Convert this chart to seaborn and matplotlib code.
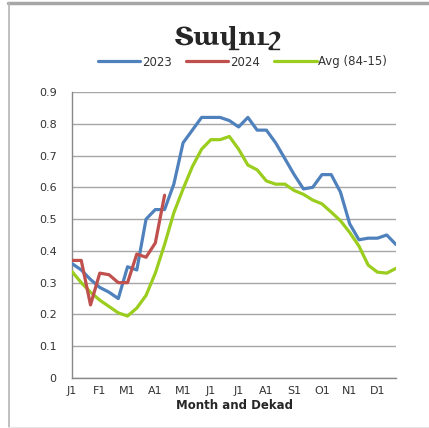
import numpy as np
import pandas as pd
import matplotlib
matplotlib.use("Agg")
import matplotlib.pyplot as plt
from matplotlib.lines import Line2D
import seaborn as sns

# dekad index 0..35 (J1 .. D3)
dekads = list(range(36))
tick_pos = list(range(0, 36, 3))
tick_labels = ["J1", "F1", "M1", "A1", "M1", "J1", "J1", "A1", "S1", "O1", "N1", "D1"]

ndvi_2023 = [0.36, 0.34, 0.31, 0.285, 0.27, 0.25, 0.35, 0.34, 0.50, 0.53, 0.53, 0.61,
             0.74, 0.78, 0.82, 0.82, 0.82, 0.81, 0.79, 0.82, 0.78, 0.78, 0.74, 0.69,
             0.64, 0.595, 0.60, 0.64, 0.64, 0.585, 0.485, 0.435, 0.44, 0.44, 0.45, 0.42]
ndvi_2024 = [0.37, 0.37, 0.23, 0.33, 0.325, 0.30, 0.30, 0.39, 0.38, 0.425, 0.575]
ndvi_avg = [0.335, 0.30, 0.27, 0.245, 0.225, 0.205, 0.195, 0.22, 0.26, 0.33, 0.42, 0.52,
            0.595, 0.665, 0.72, 0.75, 0.75, 0.76, 0.72, 0.67, 0.655, 0.62, 0.61, 0.61,
            0.59, 0.578, 0.56, 0.548, 0.522, 0.495, 0.458, 0.415, 0.355, 0.333, 0.33, 0.345]

sns.set_style("white")
plt.rcParams["font.family"] = ["DejaVu Sans"]

fig = plt.figure(figsize=(4.29, 4.28), dpi=100)
ax = fig.add_axes([72 / 429, 1 - 378 / 428, 324 / 429, 286 / 428])

lw = 2.3
sns.lineplot(x=dekads, y=ndvi_avg, ax=ax, color="#9ACD1E", linewidth=lw,
             solid_joinstyle="round", zorder=3)
sns.lineplot(x=dekads, y=ndvi_2023, ax=ax, color="#4F81BD", linewidth=lw,
             solid_joinstyle="round", zorder=4)
sns.lineplot(x=dekads[:len(ndvi_2024)], y=ndvi_2024, ax=ax, color="#C0504D",
             linewidth=lw, solid_joinstyle="round", zorder=5)

ax.set_xlim(0, 35)
ax.set_ylim(0, 0.9)
ax.set_yticks(np.arange(0, 0.91, 0.1))
ax.set_yticklabels(["0"] + [f"{v:.1f}" for v in np.arange(0.1, 0.91, 0.1)],
                   fontsize=8, color="#333333")
ax.set_xticks(tick_pos)
ax.set_xticklabels(tick_labels, fontsize=8, color="#333333")
ax.set_xticks(dekads, minor=True)
ax.tick_params(axis="both", which="both", direction="out", length=3,
               width=0.8, color="#888888")
ax.tick_params(axis="y", pad=8)
ax.tick_params(axis="x", pad=3)

ax.grid(axis="y", color="#a6a6a6", linewidth=1.0)
ax.set_axisbelow(True)
for s in ["top", "right"]:
    ax.spines[s].set_visible(False)
for s in ["left", "bottom"]:
    ax.spines[s].set_color("#888888")
    ax.spines[s].set_linewidth(1.0)

ax.set_xlabel("Month and Dekad", fontsize=8.5, fontweight="bold", labelpad=2)
ax.set_ylabel("")

fig.text(0.53, 1 - 38 / 428, "Տավուշ", ha="center", va="center", fontsize=18,
         fontweight="bold", family=["DejaVu Serif", "DejaVu Sans"])

handles = [Line2D([], [], color="#4F81BD", lw=lw),
           Line2D([], [], color="#C0504D", lw=lw),
           Line2D([], [], color="#9ACD1E", lw=lw)]
fig.legend(handles, ["2023", "2024", "Avg (84-15)"], loc="center",
           bbox_to_anchor=(0.565, 1 - 62 / 428), ncol=3, frameon=False,
           fontsize=8.5, handlelength=3.6, handletextpad=0.15, columnspacing=1.2,
           labelcolor="#333333")

# outer frame pieces
fig.add_artist(Line2D([8 / 429, 1], [1 - 3 / 428, 1 - 3 / 428],
                      transform=fig.transFigure, color="#a6a6a6", lw=2.5))
fig.add_artist(Line2D([8.5 / 429, 8.5 / 429], [1 - 3 / 428, 0],
                      transform=fig.transFigure, color="#b5b5b5", lw=1.2))
fig.add_artist(Line2D([8 / 429, 1], [1 / 428, 1 / 428],
                      transform=fig.transFigure, color="#e6e6e6", lw=0.8))

fig.savefig("out.png", dpi=100)
